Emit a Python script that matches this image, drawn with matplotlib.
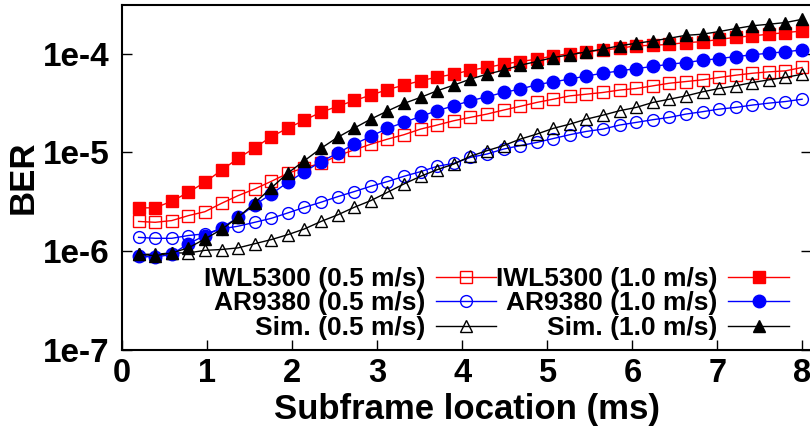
import numpy as np
import matplotlib
matplotlib.use("Agg")
import matplotlib.pyplot as plt
from matplotlib.ticker import FixedLocator, FuncFormatter, NullLocator

plt.rcParams['font.family'] = ['Liberation Sans', 'DejaVu Sans']
plt.rcParams['font.weight'] = 'bold'

# subframe index 1..41, each subframe ~0.195 ms
subframe_ms = 0.195
x = np.arange(1, 42) * subframe_ms

iwl_05 = [2.00e-6, 1.96e-6, 2.04e-6, 2.29e-6, 2.51e-6, 3.05e-6, 3.65e-6, 4.26e-6, 5.09e-6, 6.14e-6,
          7.00e-6, 7.74e-6, 9.25e-6, 1.06e-5, 1.21e-5, 1.36e-5, 1.51e-5, 1.72e-5, 1.89e-5, 2.09e-5,
          2.26e-5, 2.44e-5, 2.68e-5, 2.92e-5, 3.20e-5, 3.45e-5, 3.73e-5, 3.88e-5, 4.04e-5, 4.27e-5,
          4.43e-5, 4.71e-5, 5.01e-5, 5.21e-5, 5.42e-5, 5.73e-5, 6.04e-5, 6.32e-5, 6.53e-5, 6.68e-5,
          7.23e-5]
ar_05 = [1.38e-6, 1.35e-6, 1.35e-6, 1.44e-6, 1.50e-6, 1.68e-6, 1.79e-6, 1.96e-6, 2.15e-6, 2.44e-6,
         2.78e-6, 3.13e-6, 3.56e-6, 4.01e-6, 4.54e-6, 5.06e-6, 5.73e-6, 6.38e-6, 7.23e-6, 7.74e-6,
         8.89e-6, 9.62e-6, 1.08e-5, 1.17e-5, 1.26e-5, 1.38e-5, 1.51e-5, 1.63e-5, 1.72e-5, 1.89e-5,
         2.01e-5, 2.14e-5, 2.26e-5, 2.44e-5, 2.58e-5, 2.74e-5, 2.85e-5, 3.01e-5, 3.15e-5, 3.27e-5,
         3.45e-5]
sim_05 = [9.3e-7, 9.3e-7, 9.6e-7, 9.6e-7, 1.02e-6, 1.04e-6, 1.08e-6, 1.19e-6, 1.31e-6, 1.47e-6,
          1.68e-6, 2.00e-6, 2.33e-6, 2.78e-6, 3.25e-6, 3.94e-6, 4.79e-6, 5.73e-6, 6.68e-6, 7.62e-6,
          9.12e-6, 1.04e-5, 1.17e-5, 1.36e-5, 1.53e-5, 1.75e-5, 1.93e-5, 2.17e-5, 2.38e-5, 2.64e-5,
          2.85e-5, 3.20e-5, 3.45e-5, 3.73e-5, 4.10e-5, 4.43e-5, 4.71e-5, 5.09e-5, 5.42e-5, 5.73e-5,
          6.18e-5]
iwl_10 = [2.74e-6, 2.75e-6, 3.20e-6, 3.94e-6, 4.98e-6, 6.60e-6, 8.70e-6, 1.11e-5, 1.44e-5, 1.76e-5,
          2.12e-5, 2.55e-5, 2.92e-5, 3.35e-5, 3.79e-5, 4.32e-5, 4.79e-5, 5.30e-5, 5.77e-5, 6.18e-5,
          6.79e-5, 7.23e-5, 7.80e-5, 8.30e-5, 8.77e-5, 9.46e-5, 1.00e-4, 1.04e-4, 1.09e-4, 1.13e-4,
          1.20e-4, 1.21e-4, 1.24e-4, 1.29e-4, 1.32e-4, 1.39e-4, 1.46e-4, 1.51e-4, 1.57e-4, 1.63e-4,
          1.69e-4]
ar_10 = [8.9e-7, 8.7e-7, 9.3e-7, 1.19e-6, 1.44e-6, 1.72e-6, 2.20e-6, 2.94e-6, 3.79e-6, 4.98e-6,
         6.38e-6, 8.05e-6, 9.84e-6, 1.21e-5, 1.45e-5, 1.75e-5, 2.01e-5, 2.31e-5, 2.64e-5, 2.96e-5,
         3.33e-5, 3.65e-5, 4.04e-5, 4.37e-5, 4.83e-5, 5.18e-5, 5.51e-5, 5.94e-5, 6.32e-5, 6.68e-5,
         7.05e-5, 7.40e-5, 7.80e-5, 8.11e-5, 8.55e-5, 8.89e-5, 9.33e-5, 9.70e-5, 1.01e-4, 1.04e-4,
         1.09e-4]
sim_10 = [9.3e-7, 9.0e-7, 9.6e-7, 1.08e-6, 1.33e-6, 1.66e-6, 2.20e-6, 3.08e-6, 4.37e-6, 6.18e-6,
          8.24e-6, 1.10e-5, 1.42e-5, 1.76e-5, 2.17e-5, 2.62e-5, 3.13e-5, 3.60e-5, 4.20e-5, 4.79e-5,
          5.51e-5, 6.18e-5, 6.79e-5, 7.62e-5, 8.30e-5, 9.12e-5, 9.70e-5, 1.04e-4, 1.11e-4, 1.20e-4,
          1.27e-4, 1.34e-4, 1.43e-4, 1.53e-4, 1.57e-4, 1.67e-4, 1.79e-4, 1.91e-4, 1.98e-4, 2.06e-4,
          2.22e-4]

W, H = 810, 428
fig = plt.figure(figsize=(W / 100, H / 100), dpi=100)
ax = fig.add_axes([122 / W, 1 - 350 / H, 689 / W, 345 / H])

ax.plot(x, iwl_05, color='red', lw=1, marker='s', ms=8, mfc='none', mec='red', mew=1, label='IWL5300 (0.5 m/s)')
ax.plot(x, ar_05, color='blue', lw=1, marker='o', ms=8.5, mfc='none', mec='blue', mew=1, label='AR9380 (0.5 m/s)')
ax.plot(x, sim_05, color='black', lw=1, marker='^', ms=9, mfc='none', mec='black', mew=1, label='Sim. (0.5 m/s)')
ax.plot(x, iwl_10, color='red', lw=1, marker='s', ms=8.5, mfc='red', mec='red', label='IWL5300 (1.0 m/s)')
ax.plot(x, ar_10, color='blue', lw=1, marker='o', ms=9, mfc='blue', mec='blue', label='AR9380 (1.0 m/s)')
ax.plot(x, sim_10, color='black', lw=1, marker='^', ms=9, mfc='black', mec='black', label='Sim. (1.0 m/s)')

ax.set_yscale('log')
ax.set_xlim(0, 8.1)
ax.set_ylim(1e-7, 3.1e-4)
ax.set_xticks(range(0, 9))
ax.yaxis.set_major_locator(FixedLocator([1e-7, 1e-6, 1e-5, 1e-4]))
ax.yaxis.set_minor_locator(NullLocator())
ax.yaxis.set_major_formatter(FuncFormatter(lambda v, p: "1e%d" % round(np.log10(v))))

ax.tick_params(axis='x', direction='in', length=7, width=1, labelsize=23.5, pad=6)
ax.tick_params(axis='y', direction='in', length=7, width=1, labelsize=24, pad=9, right=True)
for s in ax.spines.values():
    s.set_linewidth(1.5)

ax.set_xlabel('Subframe location (ms)', fontsize=25, fontweight='bold', labelpad=3)
ax.set_ylabel('BER', fontsize=25, fontweight='bold', labelpad=2)

leg = ax.legend(ncol=2, loc='lower right', bbox_to_anchor=(789 / W, 1 - 340 / H), bbox_transform=fig.transFigure,
                frameon=False, markerfirst=False, fontsize=19, handlelength=2.3, handletextpad=0.4,
                columnspacing=0.0, labelspacing=0.02, borderpad=0, borderaxespad=0)

fig.savefig('out.png', dpi=100)
